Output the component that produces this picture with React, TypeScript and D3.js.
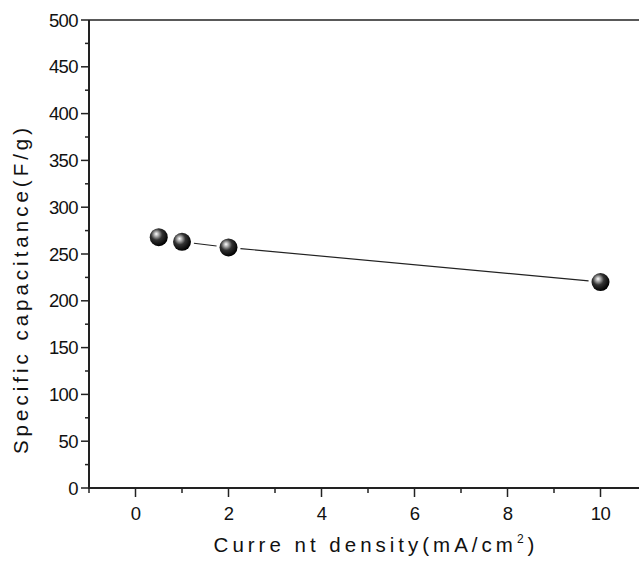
import * as d3 from "d3";

// values
const currentDensity = [0.5, 1, 2, 10]; // mA/cm2
const capacitance = [268, 263, 257, 220]; // F/g
const xTicks = [0, 2, 4, 6, 8, 10];
const yTicks = [0, 50, 100, 150, 200, 250, 300, 350, 400, 450, 500];

export default function App() {
  const width = 639,
    height = 561;
  const margin = { top: 20, left: 89, bottom: 73 };
  const font = "Arial, 'Liberation Sans', sans-serif";

  const xScale = d3.scaleLinear().domain([-1, 11]).range([margin.left, margin.left + 12 * 46.5]);
  const yScale = d3.scaleLinear().domain([0, 500]).range([height - margin.bottom, margin.top]);
  const x0 = xScale(-1),
    x1 = xScale(11),
    y0 = yScale(0),
    y1 = yScale(500);

  const xMinor = d3.range(-1, 11, 1).filter((v) => v % 2 !== 0);
  const yMinor = d3.range(25, 500, 50);

  const pts = currentDensity.map((d, i) => [xScale(d), yScale(capacitance[i])] as [number, number]);
  const r = 9;
  const gap = r + 3;
  // line segments broken around the markers
  const segs = d3.pairs(pts).map(([a, b]) => {
    const dx = b[0] - a[0],
      dy = b[1] - a[1];
    const len = Math.hypot(dx, dy);
    if (len <= 2 * gap) return null;
    const ux = dx / len,
      uy = dy / len;
    return [a[0] + ux * gap, a[1] + uy * gap, b[0] - ux * gap, b[1] - uy * gap];
  });

  return (
    <svg
      width={width}
      height={height}
      style={{ position: "absolute", left: 0, top: 0, background: "#fff" }}
    >
      <defs>
        <radialGradient id="ball" cx="40%" cy="38%" r="62%" fx="36%" fy="32%">
          <stop offset="0%" stopColor="#ffffff" />
          <stop offset="20%" stopColor="#b0b0b0" />
          <stop offset="50%" stopColor="#333" />
          <stop offset="100%" stopColor="#000" />
        </radialGradient>
      </defs>

      {/* frame */}
      <line x1={x0} x2={x1} y1={y1} y2={y1} stroke="#222" strokeWidth={1.5} />
      <line x1={x1} x2={x1} y1={y1} y2={y0} stroke="#222" strokeWidth={1.5} />
      <line x1={x0} x2={x1} y1={y0} y2={y0} stroke="#222" strokeWidth={2} />
      <line x1={x0} x2={x0} y1={y1} y2={y0 + 1} stroke="#222" strokeWidth={2} />

      {/* y ticks */}
      {yTicks.map((t) => (
        <g key={"y" + t}>
          <line x1={x0 - 8} x2={x0} y1={yScale(t)} y2={yScale(t)} stroke="#222" strokeWidth={1.5} />
          <line x1={x1 - 8} x2={x1} y1={yScale(t)} y2={yScale(t)} stroke="#222" strokeWidth={1.5} />
          <text
            x={x0 - 11}
            y={yScale(t)}
            dy="0.36em"
            textAnchor="end"
            fontFamily={font}
            fontSize={18.5}
            letterSpacing={-0.6}
            fill="#111"
          >
            {t}
          </text>
        </g>
      ))}
      {yMinor.map((t) => (
        <g key={"ym" + t}>
          <line x1={x0 - 4} x2={x0} y1={yScale(t)} y2={yScale(t)} stroke="#222" strokeWidth={1.5} />
          <line x1={x1 - 4} x2={x1} y1={yScale(t)} y2={yScale(t)} stroke="#222" strokeWidth={1.5} />
        </g>
      ))}

      {/* x ticks */}
      {xTicks.map((t) => (
        <g key={"x" + t}>
          <line x1={xScale(t)} x2={xScale(t)} y1={y0} y2={y0 + 9} stroke="#222" strokeWidth={1.5} />
          <text
            x={xScale(t)}
            y={y0 + 32}
            textAnchor="middle"
            fontFamily={font}
            fontSize={18.5}
            letterSpacing={-0.6}
            fill="#111"
          >
            {t}
          </text>
        </g>
      ))}
      {xMinor.map((t) => (
        <line key={"xm" + t} x1={xScale(t)} x2={xScale(t)} y1={y0} y2={y0 + 5} stroke="#222" strokeWidth={1.5} />
      ))}

      {/* data line */}
      {segs.map((s, i) =>
        s ? <line key={"s" + i} x1={s[0]} y1={s[1]} x2={s[2]} y2={s[3]} stroke="#222" strokeWidth={1.2} /> : null
      )}
      {pts.map(([px, py], i) => (
        <circle key={"p" + i} cx={px} cy={py} r={r} fill="url(#ball)" />
      ))}

      {/* axis titles */}
      <text
        transform={`translate(28,289) rotate(-90)`}
        textAnchor="middle"
        fontFamily={font}
        fontSize={20.5}
        letterSpacing={4}
        fill="#111"
      >
        Specific capacitance(F/g)
      </text>
      <text
        x={376}
        y={552}
        textAnchor="middle"
        fontFamily={font}
        fontSize={20.5}
        letterSpacing={4}
        fill="#111"
      >
        Curre nt density(mA/cm
        <tspan dy={-9} fontSize={12}>
          2
        </tspan>
        <tspan dy={9}>)</tspan>
      </text>
    </svg>
  );
}
